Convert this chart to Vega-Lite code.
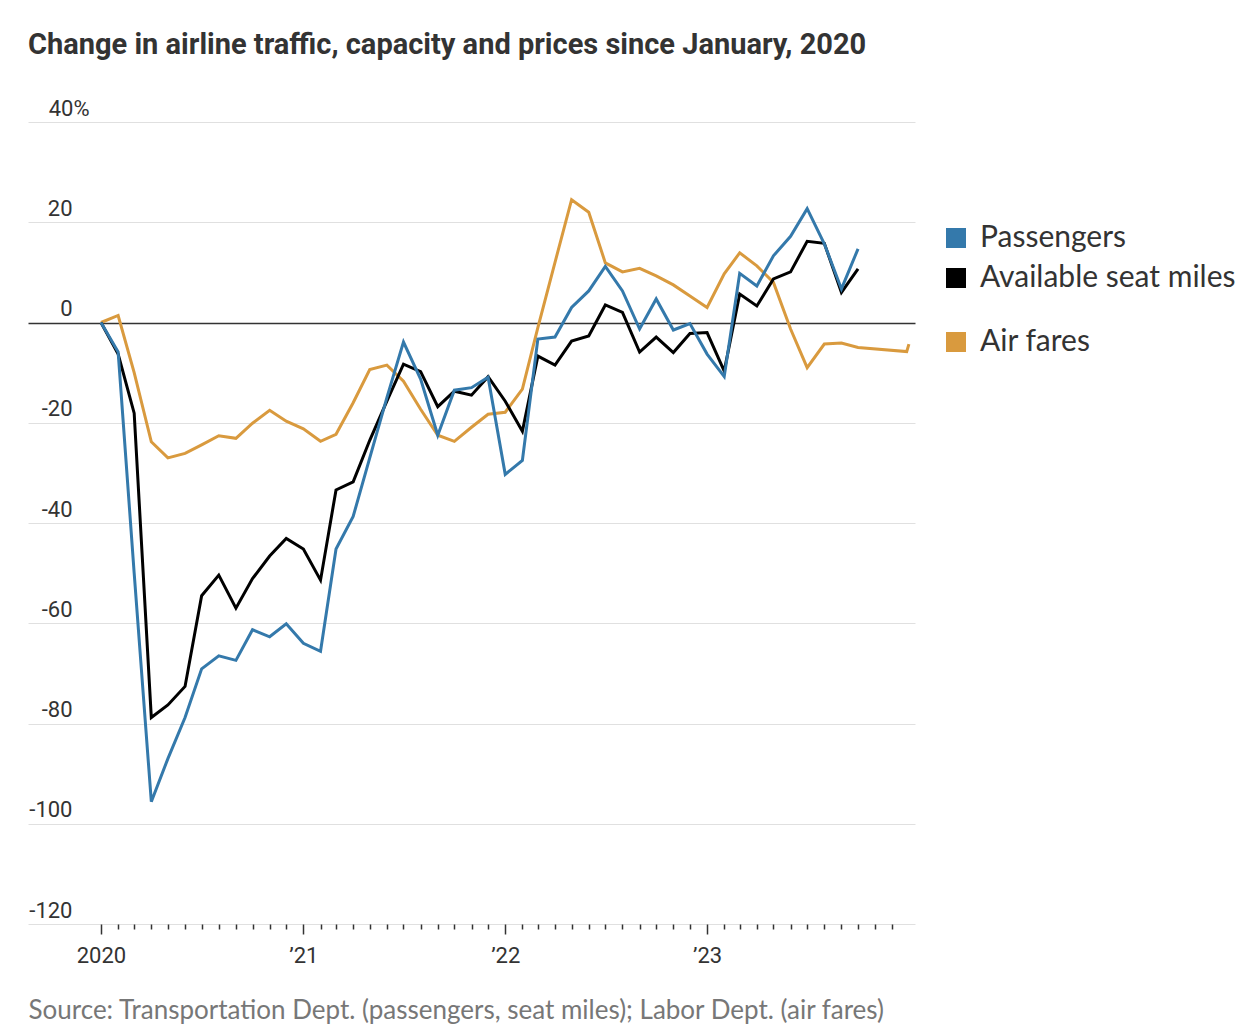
{
  "$schema": "https://vega.github.io/schema/vega-lite/v6.json",
  "width": 887,
  "height": 802,
  "autosize": {"type": "none"},
  "padding": {"left": 28, "top": 122, "right": 329, "bottom": 106},
  "background": "white",
  "title": {
    "text": "Change in airline traffic, capacity and prices since January, 2020",
    "anchor": "start",
    "frame": "group",
    "font": "Roboto",
    "fontSize": 29,
    "fontWeight": "bold",
    "color": "#333333",
    "baseline": "alphabetic",
    "offset": 14
  },
  "config": {"view": {"stroke": null}},
  "data": {
    "values": [
      {"date": "2020-01-01T00:00", "Available seat miles": 0, "Passengers": 0, "Air fares": 0},
      {"date": "2020-02-01T00:00", "Available seat miles": -6.3, "Passengers": -5.9, "Air fares": 1.4},
      {"date": "2020-03-01T00:00", "Available seat miles": -18.1, "Passengers": -50, "Air fares": -10},
      {"date": "2020-04-01T00:00", "Available seat miles": -78.8, "Passengers": -95.6, "Air fares": -23.8},
      {"date": "2020-05-01T00:00", "Available seat miles": -76.3, "Passengers": -87, "Air fares": -27},
      {"date": "2020-06-01T00:00", "Available seat miles": -72.6, "Passengers": -78.8, "Air fares": -26.1},
      {"date": "2020-07-01T00:00", "Available seat miles": -54.5, "Passengers": -69.1, "Air fares": -24.4},
      {"date": "2020-08-01T00:00", "Available seat miles": -50.4, "Passengers": -66.5, "Air fares": -22.6},
      {"date": "2020-09-01T00:00", "Available seat miles": -57, "Passengers": -67.4, "Air fares": -23.1},
      {"date": "2020-10-01T00:00", "Available seat miles": -51.1, "Passengers": -61.3, "Air fares": -20.1},
      {"date": "2020-11-01T00:00", "Available seat miles": -46.6, "Passengers": -62.7, "Air fares": -17.5},
      {"date": "2020-12-01T00:00", "Available seat miles": -43.1, "Passengers": -60.1, "Air fares": -19.7},
      {"date": "2021-01-01T00:00", "Available seat miles": -45.2, "Passengers": -64, "Air fares": -21.2},
      {"date": "2021-02-01T00:00", "Available seat miles": -51.4, "Passengers": -65.6, "Air fares": -23.7},
      {"date": "2021-03-01T00:00", "Available seat miles": -33.4, "Passengers": -45.2, "Air fares": -22.3},
      {"date": "2021-04-01T00:00", "Available seat miles": -31.8, "Passengers": -38.7, "Air fares": -16},
      {"date": "2021-05-01T00:00", "Available seat miles": -23.5, "Passengers": -27, "Air fares": -9.4},
      {"date": "2021-06-01T00:00", "Available seat miles": -15.7, "Passengers": -15, "Air fares": -8.5},
      {"date": "2021-07-01T00:00", "Available seat miles": -8.3, "Passengers": -3.9, "Air fares": -11.7},
      {"date": "2021-08-01T00:00", "Available seat miles": -9.8, "Passengers": -11.3, "Air fares": -17.3},
      {"date": "2021-09-01T00:00", "Available seat miles": -16.8, "Passengers": -22.5, "Air fares": -22.5},
      {"date": "2021-10-01T00:00", "Available seat miles": -13.7, "Passengers": -13.5, "Air fares": -23.7},
      {"date": "2021-11-01T00:00", "Available seat miles": -14.5, "Passengers": -13, "Air fares": -20.9},
      {"date": "2021-12-01T00:00", "Available seat miles": -10.8, "Passengers": -10.9, "Air fares": -18.3},
      {"date": "2022-01-01T00:00", "Available seat miles": -15.7, "Passengers": -30.3, "Air fares": -17.9},
      {"date": "2022-02-01T00:00", "Available seat miles": -21.7, "Passengers": -27.5, "Air fares": -13.3},
      {"date": "2022-03-01T00:00", "Available seat miles": -6.7, "Passengers": -3.3, "Air fares": -1},
      {"date": "2022-04-01T00:00", "Available seat miles": -8.5, "Passengers": -2.9, "Air fares": 12},
      {"date": "2022-05-01T00:00", "Available seat miles": -3.7, "Passengers": 3, "Air fares": 24.5},
      {"date": "2022-06-01T00:00", "Available seat miles": -2.7, "Passengers": 6.3, "Air fares": 22},
      {"date": "2022-07-01T00:00", "Available seat miles": 3.5, "Passengers": 11.2, "Air fares": 11.9},
      {"date": "2022-08-01T00:00", "Available seat miles": 2, "Passengers": 6.3, "Air fares": 10.1},
      {"date": "2022-09-01T00:00", "Available seat miles": -5.9, "Passengers": -1.3, "Air fares": 10.8},
      {"date": "2022-10-01T00:00", "Available seat miles": -2.9, "Passengers": 4.7, "Air fares": 9.3},
      {"date": "2022-11-01T00:00", "Available seat miles": -6, "Passengers": -1.5, "Air fares": 7.5},
      {"date": "2022-12-01T00:00", "Available seat miles": -2.2, "Passengers": -0.2, "Air fares": 5.3},
      {"date": "2023-01-01T00:00", "Available seat miles": -2, "Passengers": -6.3, "Air fares": 3},
      {"date": "2023-02-01T00:00", "Available seat miles": -9.7, "Passengers": -10.8, "Air fares": 9.7},
      {"date": "2023-03-01T00:00", "Available seat miles": 5.7, "Passengers": 9.8, "Air fares": 13.9},
      {"date": "2023-04-01T00:00", "Available seat miles": 3.3, "Passengers": 7.3, "Air fares": 11.3},
      {"date": "2023-05-01T00:00", "Available seat miles": 8.7, "Passengers": 13.3, "Air fares": 8},
      {"date": "2023-06-01T00:00", "Available seat miles": 10.1, "Passengers": 17.2, "Air fares": -1.3},
      {"date": "2023-07-01T00:00", "Available seat miles": 16.2, "Passengers": 22.7, "Air fares": -9},
      {"date": "2023-08-01T00:00", "Available seat miles": 15.8, "Passengers": 15.7, "Air fares": -4.3},
      {"date": "2023-09-01T00:00", "Available seat miles": 6, "Passengers": 6.7, "Air fares": -4.1},
      {"date": "2023-10-01T00:00", "Available seat miles": 10.7, "Passengers": 14.7, "Air fares": -5},
      {"date": "2023-12-28T00:00", "Air fares": -5.8},
      {"date": "2024-01-01T00:00", "Air fares": -4.3}
    ]
  },
  "transform": [
    {"fold": ["Air fares", "Available seat miles", "Passengers"], "as": ["series", "value"]},
    {"filter": "isValid(datum.value)"}
  ],
  "encoding": {
    "x": {
      "field": "date",
      "type": "temporal",
      "scale": {"domain": [{"year": 2019, "month": 8, "date": 22}, {"year": 2024, "month": 1, "date": 12}]},
      "axis": {
        "values": [
          {"year": 2020, "month": 1}, {"year": 2020, "month": 2}, {"year": 2020, "month": 3}, {"year": 2020, "month": 4},
          {"year": 2020, "month": 5}, {"year": 2020, "month": 6}, {"year": 2020, "month": 7}, {"year": 2020, "month": 8},
          {"year": 2020, "month": 9}, {"year": 2020, "month": 10}, {"year": 2020, "month": 11}, {"year": 2020, "month": 12},
          {"year": 2021, "month": 1}, {"year": 2021, "month": 2}, {"year": 2021, "month": 3}, {"year": 2021, "month": 4},
          {"year": 2021, "month": 5}, {"year": 2021, "month": 6}, {"year": 2021, "month": 7}, {"year": 2021, "month": 8},
          {"year": 2021, "month": 9}, {"year": 2021, "month": 10}, {"year": 2021, "month": 11}, {"year": 2021, "month": 12},
          {"year": 2022, "month": 1}, {"year": 2022, "month": 2}, {"year": 2022, "month": 3}, {"year": 2022, "month": 4},
          {"year": 2022, "month": 5}, {"year": 2022, "month": 6}, {"year": 2022, "month": 7}, {"year": 2022, "month": 8},
          {"year": 2022, "month": 9}, {"year": 2022, "month": 10}, {"year": 2022, "month": 11}, {"year": 2022, "month": 12},
          {"year": 2023, "month": 1}, {"year": 2023, "month": 2}, {"year": 2023, "month": 3}, {"year": 2023, "month": 4},
          {"year": 2023, "month": 5}, {"year": 2023, "month": 6}, {"year": 2023, "month": 7}, {"year": 2023, "month": 8},
          {"year": 2023, "month": 9}, {"year": 2023, "month": 10}, {"year": 2023, "month": 11}, {"year": 2023, "month": 12}
        ],
        "labelExpr": "month(datum.value) == 0 ? (year(datum.value) == 2020 ? '2020' : '’' + timeFormat(datum.value, '%y')) : ''",
        "labelOverlap": false,
        "labelFlush": false,
        "labelFont": "Roboto",
        "labelFontSize": 22,
        "labelColor": "#333333",
        "labelPadding": 11,
        "domain": false,
        "grid": false,
        "tickColor": "#333333",
        "tickWidth": 1.5,
        "tickSize": {"condition": {"test": "month(datum.value) == 0", "value": 10}, "value": 5},
        "title": "Source: Transportation Dept. (passengers, seat miles); Labor Dept. (air fares)",
        "titleAnchor": "start",
        "titleAlign": "left",
        "titleX": 0,
        "titleY": 94,
        "titleBaseline": "alphabetic",
        "titleFont": "Lato",
        "titleFontSize": 26,
        "titleFontWeight": "normal",
        "titleColor": "#777777"
      }
    },
    "y": {
      "field": "value",
      "type": "quantitative",
      "scale": {"domain": [-120, 40], "nice": false},
      "axis": {
        "values": [-120, -100, -80, -60, -40, -20, 0, 20, 40],
        "title": null,
        "domain": false,
        "ticks": false,
        "tickSize": 0,
        "labelAlign": "right",
        "labelBaseline": "alphabetic",
        "labelOffset": -7,
        "labelPadding": {"condition": {"test": "datum.value == 40", "value": -61}, "value": -44},
        "labelExpr": "datum.value == 40 ? '40%' : '' + datum.value",
        "labelFont": "Roboto",
        "labelFontSize": 22,
        "labelColor": "#333333",
        "gridColor": {"condition": {"test": "datum.value == 0", "value": "#333333"}, "value": "#e0e0e0"},
        "gridWidth": {"condition": {"test": "datum.value == 0", "value": 1.5}, "value": 1}
      }
    }
  },
  "layer": [
    {
      "transform": [{"filter": "datum.series == 'Air fares'"}],
      "mark": {"type": "line", "strokeWidth": 3},
      "encoding": {
        "color": {
          "field": "series",
          "type": "nominal",
          "scale": {"domain": ["Air fares"], "range": ["#d99a3e"]},
          "legend": {
            "orient": "none",
            "legendX": 913,
            "legendY": 205,
            "title": null,
            "symbolType": "square",
            "symbolSize": 100,
            "symbolStrokeWidth": 10,
            "labelFont": "Lato",
            "labelFontSize": 30,
            "labelColor": "#333333",
            "labelOffset": 9,
            "labelLimit": 400,
            "padding": 0
          }
        }
      }
    },
    {
      "transform": [{"filter": "datum.series != 'Air fares'"}],
      "mark": {"type": "line", "strokeWidth": 3},
      "encoding": {
        "color": {
          "field": "series",
          "type": "nominal",
          "scale": {"domain": ["Passengers", "Available seat miles"], "range": ["#3479ab", "#000000"]},
          "legend": {
            "orient": "none",
            "legendX": 913,
            "legendY": 101,
            "title": null,
            "symbolType": "square",
            "symbolSize": 100,
            "symbolStrokeWidth": 10,
            "labelFont": "Lato",
            "labelFontSize": 30,
            "labelColor": "#333333",
            "labelOffset": 9,
            "labelLimit": 400,
            "rowPadding": -10,
            "padding": 0
          }
        }
      }
    }
  ],
  "resolve": {"scale": {"color": "independent"}}
}
